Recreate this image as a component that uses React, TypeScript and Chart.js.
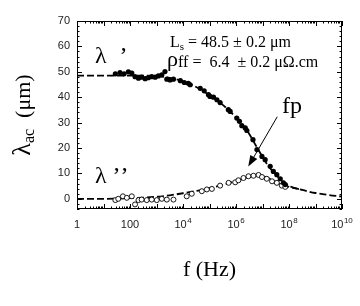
import React, { useEffect, useRef } from 'react';
import { Chart, registerables } from 'chart.js';
Chart.register(...registerables);

// λ' measured points (filled circles): frequency (Hz) and value (μm)
const lambdaRealFreq = [28, 42, 60, 87, 117, 155, 209, 275, 372, 490, 661, 891, 1175, 1585, 2089, 2455, 3236, 4365, 7943, 11220, 15850, 18620, 44670, 63100, 91200, 104700, 141300, 190500, 251200, 512900, 602600, 1.07e6, 1.35e6, 1.66e6, 2.24e6, 2.57e6, 4.37e6, 6.17e6, 9.55e6, 1.26e7, 1.95e7, 2.57e7, 3.47e7, 4.68e7, 6.17e7, 7.24e7];
const lambdaRealVal = [49.2, 49.7, 49.2, 50.0, 49.5, 48.1, 47.5, 47.9, 47.3, 47.7, 48.1, 47.9, 48.4, 48.8, 50.1, 47.1, 46.8, 47.1, 46.5, 45.8, 45.5, 44.9, 43.5, 42.5, 41.0, 40.3, 40.0, 39.0, 37.9, 35.1, 34.4, 31.8, 30.5, 28.8, 27.9, 26.9, 23.3, 19.4, 16.7, 15.4, 12.8, 10.8, 9.5, 7.9, 6.3, 5.6];

// λ'' measured points (open circles)
const lambdaImagFreq = [28, 36, 54, 76, 117, 155, 209, 275, 427, 661, 1023, 1585, 2455, 4365, 13800, 21400, 51300, 79400, 123000, 251200, 524800, 933300, 1.23e6, 1.91e6, 2.95e6, 4.57e6, 7.08e6, 9.55e6, 1.45e7, 2.29e7, 3.47e7, 5.37e7, 7.24e7];
const lambdaImagVal = [-0.5, 0, 1.0, 0.4, 1.0, -2.2, -0.5, -0.3, -0.5, -0.3, -0.5, 0, -0.3, -0.3, 1.0, 2.0, 3.0, 3.7, 3.9, 5.2, 6.3, 6.5, 7.3, 8.2, 8.9, 9.1, 9.4, 8.6, 7.9, 6.9, 6.3, 5.2, 4.7];

// Fit curves (dashed)
const fitRealFreq = [1, 10, 100, 1e3, 3.16e3, 1e4, 3.16e4, 1e5, 3.16e5, 1e6, 1.78e6, 3.16e6, 5.62e6, 1e7, 1.78e7, 3.16e7, 5.62e7, 1e8, 3.16e8, 1e9, 3.16e9, 1e10];
const fitRealVal = [48.5, 48.5, 48.5, 48.3, 47.6, 46.3, 44.0, 40.8, 37.0, 32.0, 29.0, 25.5, 21.0, 16.5, 12.5, 9.5, 7.0, 5.1, 3.5, 2.3, 1.5, 0.9];
const fitImagFreq = [1, 10, 100, 1e3, 3.16e3, 1e4, 3.16e4, 1e5, 3.16e5, 1e6, 3.16e6, 5.62e6, 1e7, 1.78e7, 3.16e7, 5.62e7, 1e8, 3.16e8];
const fitImagVal = [0, 0, 0.3, 0.8, 1.4, 2.2, 3.1, 4.2, 5.5, 7.0, 8.6, 9.2, 9.0, 8.0, 6.6, 5.4, 4.7, 3.5];

// Axis ticks
const xTickValues = [1, 100, 1e4, 1e6, 1e8, 1e10];
const xTickBase = ['1', '100', '10', '10', '10', '10'];
const xTickExp = ['', '', '4', '6', '8', '10'];
const yTickValues = [0, 10, 20, 30, 40, 50, 60, 70];

const SANS = '"Liberation Sans", Arial, Helvetica, sans-serif';
const SERIF = '"Liberation Serif", "Times New Roman", Times, serif';

const decorPlugin = {
  id: 'decor',
  afterDraw(chart: any) {
    const { ctx, chartArea: a, scales } = chart;
    const xs = scales.x;
    const ys = scales.y;
    const X = (v: number) => xs.getPixelForValue(v);
    const Y = (v: number) => ys.getPixelForValue(v);
    ctx.save();
    ctx.strokeStyle = '#000';
    ctx.fillStyle = '#000';
    ctx.lineWidth = 1;
    ctx.setLineDash([]);
    ctx.strokeRect(a.left + 0.5, a.top + 0.5, a.right - a.left - 1, a.bottom - a.top - 1);

    ctx.beginPath();
    for (let k = 0; k <= 10; k++) {
      for (let m = 1; m <= 9; m++) {
        const v = m * Math.pow(10, k);
        if (v > 1e10) break;
        const p = Math.round(X(v)) + 0.5;
        const len = m === 1 ? 5 : 2.5;
        ctx.moveTo(p, a.bottom);
        ctx.lineTo(p, a.bottom - len);
        ctx.moveTo(p, a.top);
        ctx.lineTo(p, a.top + len);
      }
    }
    for (let v = -4; v <= 70; v += 2) {
      const p = Math.round(Y(v)) + 0.5;
      const len = v % 10 === 0 ? 5 : 2.5;
      ctx.moveTo(a.left, p);
      ctx.lineTo(a.left + len, p);
      ctx.moveTo(a.right, p);
      ctx.lineTo(a.right - len, p);
    }
    ctx.stroke();

    // x tick labels
    ctx.textBaseline = 'alphabetic';
    ctx.textAlign = 'left';
    xTickValues.forEach((v, i) => {
      ctx.font = `11px ${SANS}`;
      const wb = ctx.measureText(xTickBase[i]).width;
      ctx.font = `8px ${SANS}`;
      const we = xTickExp[i] ? ctx.measureText(xTickExp[i]).width + 0.5 : 0;
      const x0 = X(v) - (wb + we) / 2;
      const base = a.bottom + 19;
      ctx.fillStyle = '#222';
      ctx.font = `11px ${SANS}`;
      ctx.fillText(xTickBase[i], x0, base);
      if (xTickExp[i]) {
        ctx.font = `8px ${SANS}`;
        ctx.fillText(xTickExp[i], x0 + wb + 0.5, base - 5);
      }
    });
    ctx.fillStyle = '#000';

    // x axis title
    ctx.font = `22px ${SERIF}`;
    ctx.textAlign = 'center';
    ctx.fillText('f (Hz)', (a.left + a.right) / 2, 276);

    // y axis title (rotated)
    ctx.save();
    ctx.translate(22, (a.top + a.bottom) / 2);
    ctx.rotate(-Math.PI / 2);
    ctx.textAlign = 'left';
    const f1 = `26px ${SERIF}`;
    const f2 = `16px ${SERIF}`;
    const f3 = `22px ${SERIF}`;
    ctx.font = f1; const w1 = ctx.measureText('λ').width;
    ctx.font = f2; const w2 = ctx.measureText('ac').width;
    ctx.font = f3; const w3 = ctx.measureText('  (μm)').width;
    let sx = -(w1 + w2 + w3) / 2;
    ctx.font = f1; ctx.fillText('λ', sx, 8); sx += w1;
    ctx.font = f2; ctx.fillText('ac', sx, 12); sx += w2;
    ctx.font = f3; ctx.fillText('  (μm)', sx, 8);
    ctx.restore();

    // annotations
    ctx.textAlign = 'left';
    ctx.font = `24px ${SERIF}`;
    ctx.fillText('λ', X(4.8), Y(53.5));
    ctx.fillText('’', X(40), Y(53.5));
    ctx.fillText('λ', X(4.8), Y(6.4));
    ctx.fillText('’', X(22), Y(6.4));
    ctx.fillText('’', X(44), Y(6.4));

    let tx = X(3240);
    const ty = Y(59.9);
    ctx.font = `16px ${SERIF}`;
    ctx.fillText('L', tx, ty); tx += ctx.measureText('L').width;
    ctx.font = `11px ${SERIF}`;
    ctx.fillText('s', tx, ty + 3); tx += ctx.measureText('s').width;
    ctx.font = `16px ${SERIF}`;
    ctx.fillText(' = 48.5 ± 0.2 μm', tx, ty);

    let rx = X(2500);
    const ry = Y(52.3);
    ctx.font = `22px ${SERIF}`;
    ctx.fillText('ρ', rx, ry); rx += ctx.measureText('ρ').width;
    ctx.font = `16px ${SERIF}`;
    ctx.fillText('ff =  6.4  ± 0.2 μΩ.cm', rx, ry + 1);

    ctx.font = `24px ${SERIF}`;
    ctx.fillText('fp', X(5.5e7), Y(33.9));

    // arrow
    const x1 = X(3.6e7), y1 = Y(32.3);
    const x2 = X(2.9e6), y2 = Y(12.7);
    const ang = Math.atan2(y2 - y1, x2 - x1);
    const hl = 11, hw = 4;
    const bx = x2 - hl * Math.cos(ang), by = y2 - hl * Math.sin(ang);
    ctx.lineWidth = 1;
    ctx.beginPath();
    ctx.moveTo(x1, y1);
    ctx.lineTo(bx, by);
    ctx.stroke();
    ctx.beginPath();
    ctx.moveTo(x2, y2);
    ctx.lineTo(bx + hw * Math.sin(ang), by - hw * Math.cos(ang));
    ctx.lineTo(bx - hw * Math.sin(ang), by + hw * Math.cos(ang));
    ctx.closePath();
    ctx.fill();

    ctx.restore();
  },
};

export default function App() {
  const ref = useRef<HTMLCanvasElement | null>(null);
  useEffect(() => {
    if (!ref.current) return;
    const pts = (f: number[], v: number[]) => f.map((x, i) => ({ x, y: v[i] }));
    const chart = new Chart(ref.current, {
      type: 'scatter',
      data: {
        datasets: [
          {
            label: "λ'",
            data: pts(lambdaRealFreq, lambdaRealVal),
            pointRadius: 2.6,
            pointBackgroundColor: '#000',
            pointBorderColor: '#000',
            pointBorderWidth: 0,
            showLine: false,
          },
          {
            label: "λ''",
            data: pts(lambdaImagFreq, lambdaImagVal),
            pointRadius: 2.5,
            pointBackgroundColor: '#fff',
            pointBorderColor: '#000',
            pointBorderWidth: 0.9,
            showLine: false,
          },
          {
            label: "fit λ'",
            data: pts(fitRealFreq, fitRealVal),
            showLine: true,
            pointRadius: 0,
            borderColor: '#000',
            borderWidth: 1.8,
            borderDash: [7, 3],
            cubicInterpolationMode: 'monotone',
          },
          {
            label: "fit λ''",
            data: pts(fitImagFreq, fitImagVal),
            showLine: true,
            pointRadius: 0,
            borderColor: '#000',
            borderWidth: 1.8,
            borderDash: [7, 3],
            cubicInterpolationMode: 'monotone',
          },
        ],
      },
      options: {
        animation: false,
        responsive: false,
        maintainAspectRatio: false,
        layout: { padding: { left: 0, top: 21, right: 18, bottom: 0 } },
        plugins: { legend: { display: false }, tooltip: { enabled: false } },
        scales: {
          x: {
            type: 'logarithmic',
            min: 1,
            max: 1e10,
            grid: { display: false },
            border: { display: false },
            ticks: { display: false },
            afterFit: (s: any) => { s.height = 97; },
          },
          y: {
            type: 'linear',
            min: -4,
            max: 70,
            grid: { display: false, drawTicks: false },
            border: { display: false },
            afterBuildTicks: (s: any) => { s.ticks = yTickValues.map((v) => ({ value: v })); },
            afterFit: (s: any) => { s.width = 77; },
            ticks: {
              padding: 7,
              color: '#222',
              font: { family: SANS, size: 11 },
              callback: (v: any) => String(v),
            },
          },
        },
      },
      plugins: [decorPlugin],
    } as any);
    return () => chart.destroy();
  }, []);
  return (
    <div style={{ position: 'fixed', left: 0, top: 0, width: 360, height: 306, background: '#fff' }}>
      <canvas ref={ref} width={360} height={306} style={{ width: 360, height: 306, display: 'block' }} />
    </div>
  );
}
